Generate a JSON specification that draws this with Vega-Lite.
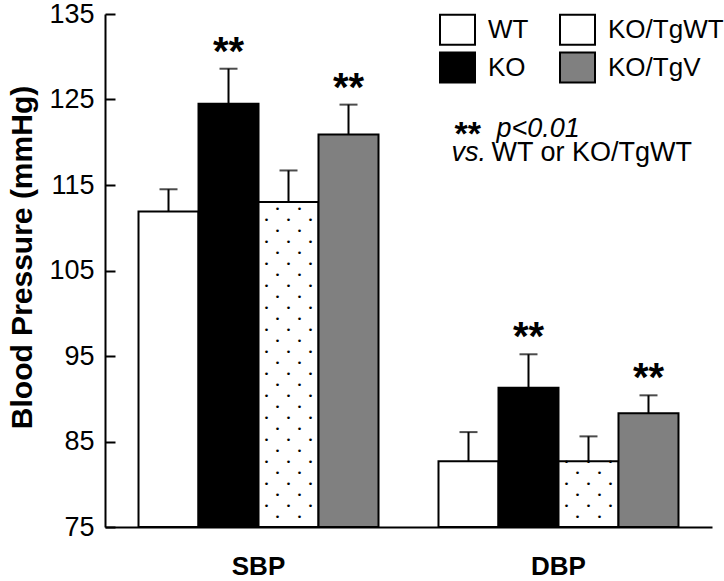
{
  "$schema": "https://vega.github.io/schema/vega-lite/v6.json",
  "width": 607,
  "height": 513,
  "autosize": "none",
  "padding": {"left": 105, "top": 14, "right": 12, "bottom": 54},
  "background": "white",
  "config": {
    "view": {"stroke": null},
    "font": "Liberation Sans",
    "axis": {"domainColor": "black", "domainWidth": 2, "tickColor": "black", "tickWidth": 2, "labelColor": "black", "titleColor": "black", "grid": false}
  },
  "data": {
    "values": [
      {"measure": "SBP", "group": "WT", "value": 111.9, "upper": 114.5, "sig": ""},
      {"measure": "SBP", "group": "KO", "value": 124.5, "upper": 128.6, "sig": "**"},
      {"measure": "SBP", "group": "KO/TgWT", "value": 113.0, "upper": 116.7, "sig": ""},
      {"measure": "SBP", "group": "KO/TgV", "value": 120.9, "upper": 124.4, "sig": "**"},
      {"measure": "DBP", "group": "WT", "value": 82.7, "upper": 86.1, "sig": ""},
      {"measure": "DBP", "group": "KO", "value": 91.3, "upper": 95.2, "sig": "**"},
      {"measure": "DBP", "group": "KO/TgWT", "value": 82.7, "upper": 85.6, "sig": ""},
      {"measure": "DBP", "group": "KO/TgV", "value": 88.3, "upper": 90.4, "sig": "**"}
    ]
  },
  "encoding": {
    "x": {
      "field": "measure", "type": "nominal", "sort": ["SBP", "DBP"],
      "scale": {"paddingInner": 0.2, "paddingOuter": 0.1117},
      "axis": {"title": null, "ticks": false, "labelAngle": 0, "labelFont": "Liberation Sans", "labelFontSize": 26, "labelFontWeight": "bold", "labelPadding": 26}
    },
    "xOffset": {"field": "group", "type": "nominal", "sort": ["WT", "KO", "KO/TgWT", "KO/TgV"], "scale": {"paddingInner": 0, "paddingOuter": 0}}
  },
  "layer": [
    {
      "mark": {"type": "bar", "stroke": "black", "strokeWidth": 2},
      "encoding": {
        "y": {
          "field": "value", "type": "quantitative",
          "scale": {"domain": [75, 135], "nice": false, "zero": false},
          "axis": {
            "values": [75, 85, 95, 105, 115, 125, 135],
            "tickSize": -10, "labelPadding": 21,
            "labelFont": "Liberation Sans", "labelFontSize": 27,
            "title": "Blood Pressure (mmHg)", "titleFont": "Liberation Sans", "titleFontSize": 30, "titleFontWeight": "bold",
            "titleBaseline": "alphabetic", "titleX": -74, "titleY": 243, "titleAngle": -90
          }
        },
        "y2": {"datum": 75},
        "fill": {
          "field": "group", "type": "nominal",
          "scale": {"domain": ["WT", "KO", "KO/TgWT", "KO/TgV"], "range": ["#ffffff", "#000000", "#ffffff", "#808080"]},
          "legend": {
            "title": null, "orient": "none", "legendX": 334, "legendY": -3, "columns": 2, "columnPadding": 27, "rowPadding": -1.5,
            "symbolType": "M-1,-0.857L1,-0.857L1,0.857L-1,0.857Z", "symbolSize": 1225,
            "symbolStrokeColor": "black", "symbolStrokeWidth": 2, "symbolOpacity": 1,
            "labelFont": "Liberation Sans", "labelFontSize": 26, "labelColor": "black", "labelOffset": 12, "labelLimit": 300, "padding": 0
          }
        }
      }
    },
    {
      "transform": [{"filter": "datum.group === 'KO/TgWT' && datum.measure === 'SBP'"}],
      "mark": {
        "type": "text", "font": "DejaVu Sans Mono", "fontSize": 9.15, "lineHeight": 11,
        "baseline": "top", "align": "center", "dy": 3, "color": "black",
        "text": ["\u00a0\u00a0•\u00a0\u00a0\u00a0•\u00a0\u00a0", "•\u00a0\u00a0\u00a0•\u00a0\u00a0\u00a0•", "\u00a0\u00a0•\u00a0\u00a0\u00a0•\u00a0\u00a0", "•\u00a0\u00a0\u00a0•\u00a0\u00a0\u00a0•", "\u00a0\u00a0•\u00a0\u00a0\u00a0•\u00a0\u00a0", "•\u00a0\u00a0\u00a0•\u00a0\u00a0\u00a0•", "\u00a0\u00a0•\u00a0\u00a0\u00a0•\u00a0\u00a0", "•\u00a0\u00a0\u00a0•\u00a0\u00a0\u00a0•", "\u00a0\u00a0•\u00a0\u00a0\u00a0•\u00a0\u00a0", "•\u00a0\u00a0\u00a0•\u00a0\u00a0\u00a0•", "\u00a0\u00a0•\u00a0\u00a0\u00a0•\u00a0\u00a0", "•\u00a0\u00a0\u00a0•\u00a0\u00a0\u00a0•", "\u00a0\u00a0•\u00a0\u00a0\u00a0•\u00a0\u00a0", "•\u00a0\u00a0\u00a0•\u00a0\u00a0\u00a0•", "\u00a0\u00a0•\u00a0\u00a0\u00a0•\u00a0\u00a0", "•\u00a0\u00a0\u00a0•\u00a0\u00a0\u00a0•", "\u00a0\u00a0•\u00a0\u00a0\u00a0•\u00a0\u00a0", "•\u00a0\u00a0\u00a0•\u00a0\u00a0\u00a0•", "\u00a0\u00a0•\u00a0\u00a0\u00a0•\u00a0\u00a0", "•\u00a0\u00a0\u00a0•\u00a0\u00a0\u00a0•", "\u00a0\u00a0•\u00a0\u00a0\u00a0•\u00a0\u00a0", "•\u00a0\u00a0\u00a0•\u00a0\u00a0\u00a0•", "\u00a0\u00a0•\u00a0\u00a0\u00a0•\u00a0\u00a0", "•\u00a0\u00a0\u00a0•\u00a0\u00a0\u00a0•", "\u00a0\u00a0•\u00a0\u00a0\u00a0•\u00a0\u00a0", "•\u00a0\u00a0\u00a0•\u00a0\u00a0\u00a0•", "\u00a0\u00a0•\u00a0\u00a0\u00a0•\u00a0\u00a0", "•\u00a0\u00a0\u00a0•\u00a0\u00a0\u00a0•", "\u00a0\u00a0•\u00a0\u00a0\u00a0•\u00a0\u00a0"]
      },
      "encoding": {"y": {"field": "value", "type": "quantitative"}}
    },
    {
      "transform": [{"filter": "datum.group === 'KO/TgWT' && datum.measure === 'DBP'"}],
      "mark": {
        "type": "text", "font": "DejaVu Sans Mono", "fontSize": 9.15, "lineHeight": 11,
        "baseline": "top", "align": "center", "dy": -3, "color": "black",
        "text": ["•\u00a0\u00a0\u00a0•\u00a0\u00a0\u00a0•", "\u00a0\u00a0•\u00a0\u00a0\u00a0•\u00a0\u00a0", "•\u00a0\u00a0\u00a0•\u00a0\u00a0\u00a0•", "\u00a0\u00a0•\u00a0\u00a0\u00a0•\u00a0\u00a0", "•\u00a0\u00a0\u00a0•\u00a0\u00a0\u00a0•", "\u00a0\u00a0•\u00a0\u00a0\u00a0•\u00a0\u00a0"]
      },
      "encoding": {"y": {"field": "value", "type": "quantitative"}}
    },
    {
      "mark": {"type": "rule", "color": "black", "strokeWidth": 2},
      "encoding": {"y": {"field": "value", "type": "quantitative"}, "y2": {"field": "upper"}}
    },
    {
      "mark": {"type": "tick", "orient": "horizontal", "color": "black", "size": 18, "thickness": 2},
      "encoding": {"y": {"field": "upper", "type": "quantitative"}}
    },
    {
      "mark": {"type": "text", "font": "Liberation Sans", "fontSize": 40, "fontWeight": "bold", "baseline": "alphabetic", "align": "center", "dy": -4, "color": "black"},
      "encoding": {"y": {"field": "upper", "type": "quantitative"}, "text": {"field": "sig"}}
    },
    {
      "data": {"values": [{"measure": "DBP", "y": 120.5, "text": "**"}]},
      "mark": {"type": "text", "font": "Liberation Sans", "fontSize": 34, "fontWeight": "bold", "baseline": "alphabetic", "align": "left", "dx": -104, "dy": 7, "color": "black"},
      "encoding": {"x": {"field": "measure", "type": "nominal"}, "xOffset": null, "y": {"field": "y", "type": "quantitative"}, "text": {"field": "text"}}
    },
    {
      "data": {"values": [{"measure": "DBP", "y": 120.6, "text": "p<0.01"}]},
      "mark": {"type": "text", "font": "Liberation Sans", "fontSize": 27, "fontStyle": "italic", "baseline": "alphabetic", "align": "left", "dx": -62, "color": "black"},
      "encoding": {"x": {"field": "measure", "type": "nominal"}, "xOffset": null, "y": {"field": "y", "type": "quantitative"}, "text": {"field": "text"}}
    },
    {
      "data": {"values": [{"measure": "DBP", "y": 117.8, "text": "vs."}]},
      "mark": {"type": "text", "font": "Liberation Sans", "fontSize": 27, "fontStyle": "italic", "baseline": "alphabetic", "align": "left", "dx": -107, "color": "black"},
      "encoding": {"x": {"field": "measure", "type": "nominal"}, "xOffset": null, "y": {"field": "y", "type": "quantitative"}, "text": {"field": "text"}}
    },
    {
      "data": {"values": [{"measure": "DBP", "y": 117.8, "text": "WT or KO/TgWT"}]},
      "mark": {"type": "text", "font": "Liberation Sans", "fontSize": 27, "baseline": "alphabetic", "align": "left", "dx": -67, "color": "black"},
      "encoding": {"x": {"field": "measure", "type": "nominal"}, "xOffset": null, "y": {"field": "y", "type": "quantitative"}, "text": {"field": "text"}}
    }
  ]
}
